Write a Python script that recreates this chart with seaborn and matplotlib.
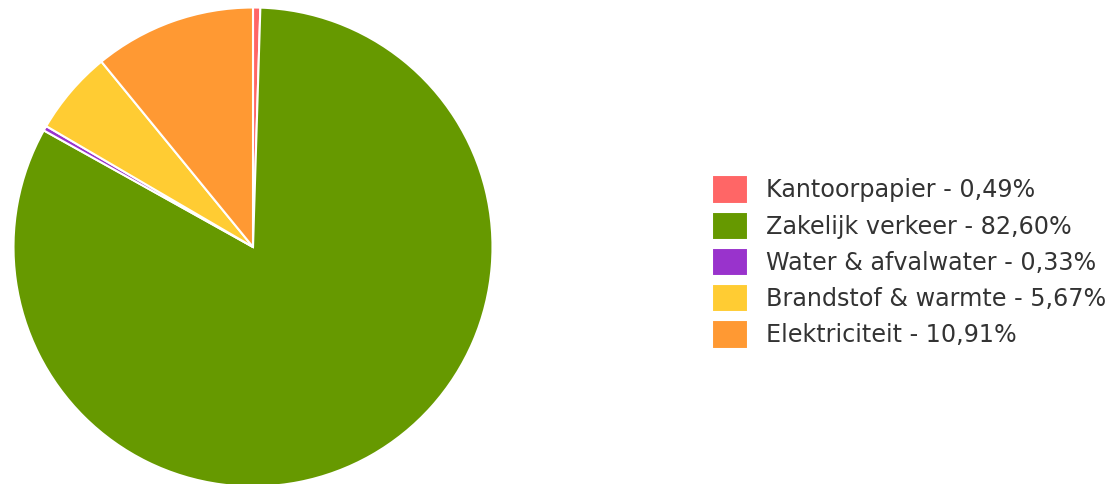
import matplotlib
matplotlib.use("Agg")
import matplotlib.pyplot as plt
import seaborn as sns

categories = ["Kantoorpapier", "Zakelijk verkeer", "Water & afvalwater",
              "Brandstof & warmte", "Elektriciteit"]
shares = [0.49, 82.60, 0.33, 5.67, 10.91]
colors = ["#FF6666", "#669900", "#9933CC", "#FFCC33", "#FF9933"]

sns.set_style("white")
plt.rcParams['font.family'] = ['DejaVu Sans']

fig = plt.figure(figsize=(11.15, 4.84), dpi=100)
# pie axes: center ~ (253, 247) px, radius ~ 239.5 px
r = 239.5
ax = fig.add_axes([(253 - r) / 1115, (484 - 247 - r) / 484, 2 * r / 1115, 2 * r / 484])
wedges, _ = ax.pie(shares, colors=sns.color_palette(colors), startangle=90,
                   counterclock=False, radius=1,
                   wedgeprops=dict(edgecolor="white", linewidth=1.5))
ax.set_xlim(-1, 1)
ax.set_ylim(-1, 1)
ax.set_aspect("equal")
ax.axis("off")

labels = [f"{c} - {v:.2f}%".replace(".", ",") for c, v in zip(categories, shares)]
fig.legend(wedges, labels, loc="center left",
           bbox_to_anchor=(712 / 1115, 1 - 262 / 484),
           frameon=False, fontsize=17.2, labelcolor="#333333",
           handlelength=1.5, handleheight=1.45, handletextpad=0.78,
           labelspacing=0.33, borderpad=0, borderaxespad=0)

fig.savefig("out.png", dpi=100)
